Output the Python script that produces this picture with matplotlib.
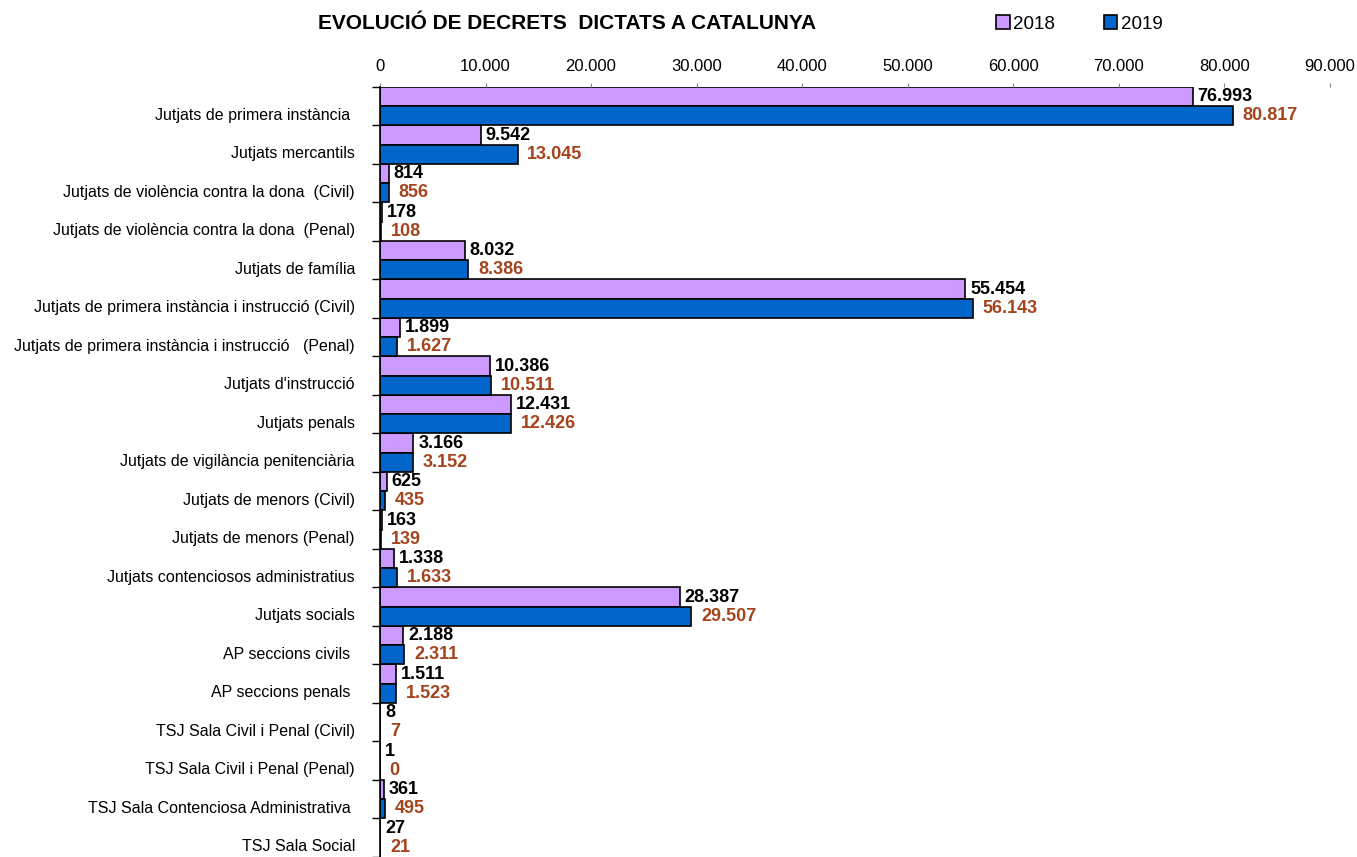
import numpy as np
import matplotlib
matplotlib.use('Agg')
import matplotlib.pyplot as plt
from matplotlib.ticker import FuncFormatter, FixedLocator

plt.rcParams['font.family'] = ['Liberation Sans', 'DejaVu Sans']

categories = [
    'Jutjats de primera instància ',
    'Jutjats mercantils',
    'Jutjats de violència contra la dona  (Civil)',
    'Jutjats de violència contra la dona  (Penal)',
    'Jutjats de família',
    'Jutjats de primera instància i instrucció (Civil)',
    'Jutjats de primera instància i instrucció   (Penal)',
    "Jutjats d'instrucció",
    'Jutjats penals',
    'Jutjats de vigilància penitenciària',
    'Jutjats de menors (Civil)',
    'Jutjats de menors (Penal)',
    'Jutjats contenciosos administratius',
    'Jutjats socials',
    'AP seccions civils ',
    'AP seccions penals ',
    'TSJ Sala Civil i Penal (Civil)',
    'TSJ Sala Civil i Penal (Penal)',
    'TSJ Sala Contenciosa Administrativa ',
    'TSJ Sala Social',
]
vals_2018 = [76993, 9542, 814, 178, 8032, 55454, 1899, 10386, 12431, 3166,
             625, 163, 1338, 28387, 2188, 1511, 8, 1, 361, 27]
vals_2019 = [80817, 13045, 856, 108, 8386, 56143, 1627, 10511, 12426, 3152,
             435, 139, 1633, 29507, 2311, 1523, 7, 0, 495, 21]


def fmt(v):
    return '{:,}'.format(int(v)).replace(',', '.')


fig = plt.figure(figsize=(13.57, 8.57), dpi=100)
ax = fig.add_axes([0.280, 0.0, 0.700, 0.8985])

y = np.arange(len(categories))
h = 0.5
ax.barh(y - h / 2, vals_2018, height=h, color='#CC99FF', edgecolor='black', linewidth=1.2, label='2018')
ax.barh(y + h / 2, vals_2019, height=h, color='#0066CC', edgecolor='black', linewidth=1.2, label='2019')

for i in range(len(categories)):
    ax.annotate(fmt(vals_2018[i]), (vals_2018[i], y[i] - h / 2), xytext=(3.5, 0),
                textcoords='offset points', va='center', ha='left',
                fontsize=13, fontweight='bold', color='black')
    ax.annotate(fmt(vals_2019[i]), (vals_2019[i], y[i] + h / 2), xytext=(7, 0),
                textcoords='offset points', va='center', ha='left',
                fontsize=13, fontweight='bold', color='#A5441C')

ax.set_xlim(0, 90000)
ax.set_ylim(len(categories) - 0.5, -0.5)
ax.xaxis.tick_top()
ax.set_xticks(np.arange(0, 90001, 10000))
ax.xaxis.set_major_formatter(FuncFormatter(lambda v, p: fmt(v)))
ax.tick_params(axis='x', labelsize=12, length=3, color='#888888', pad=6)

ax.set_yticks(y + 0.2)
ax.set_yticklabels(categories, fontsize=11.5)
ax.tick_params(axis='y', which='major', length=0, pad=18)
ax.yaxis.set_minor_locator(FixedLocator(np.arange(-0.5, len(categories), 1)))
ax.tick_params(axis='y', which='minor', length=6, width=1)

for s in ['top', 'right', 'bottom']:
    ax.spines[s].set_visible(False)
ax.spines['left'].set_linewidth(1.2)

fig.text(0.418, 0.972, 'EVOLUCIÓ DE DECRETS  DICTATS A CATALUNYA', ha='center', va='center',
         fontsize=15, fontweight='bold')
fig.legend(loc='center', bbox_to_anchor=(0.7955, 0.972), ncol=2, frameon=False, fontsize=13.5,
           handlelength=0.7, handleheight=0.7, handletextpad=0.2, columnspacing=2.6)

fig.savefig('out.png', dpi=100)
